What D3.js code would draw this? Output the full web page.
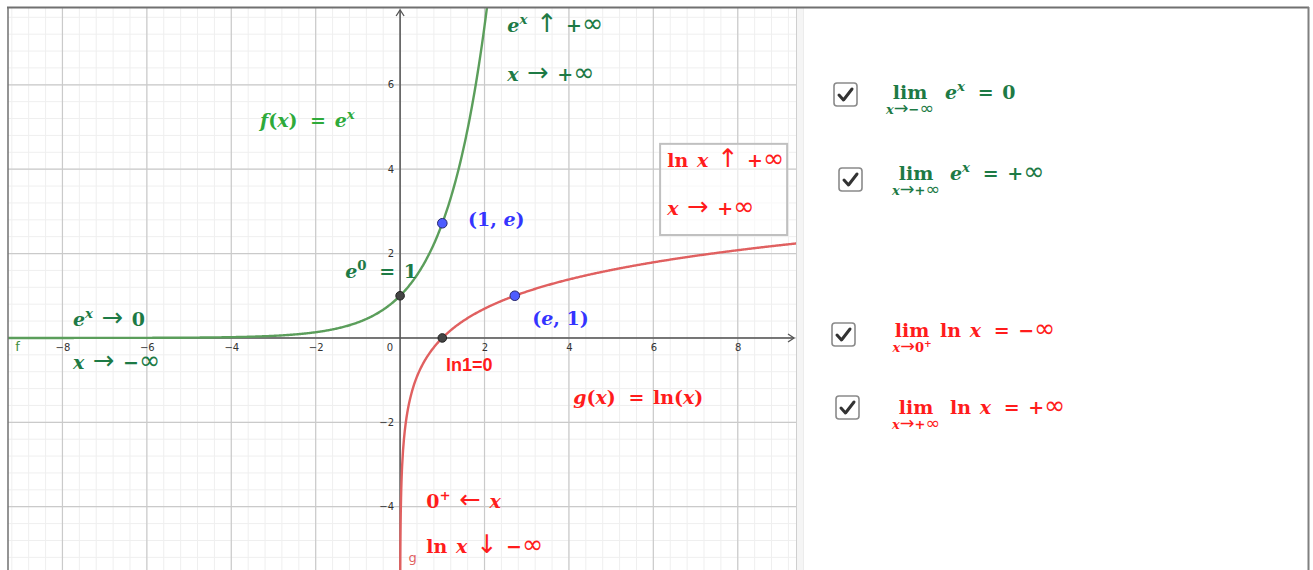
<!DOCTYPE html>
<html><head><meta charset="utf-8">
<script src="https://cdn.jsdelivr.net/npm/d3@7"></script>
<style>html,body{margin:0;padding:0;background:#fff;}svg{display:block;}</style>
</head><body>
<svg id="c" width="1313" height="570"></svg>
<script>
// ---------- data ----------
const xTicks = [-8, -6, -4, -2, 2, 4, 6, 8];
const yTicks = [-4, -2, 2, 4, 6];
const xDomain = [-9.29, 9.38];
const yDomain = [7.82, -5.5];
const expSampleX = d3.range(-9.3, 2.1, 0.02);
const lnSampleX = d3.range(0.0035, 0.05, 0.0005).concat(d3.range(0.05, 9.45, 0.02));
const expPointsY = expSampleX.map(v => Math.exp(v));
const lnPointsY = lnSampleX.map(v => Math.log(v));
const blackPointsX = [0, 1];
const blackPointsY = [1, 0];
const bluePointsX = [1, Math.E];
const bluePointsY = [Math.E, 1];

// ---------- layout ----------
const svg = d3.select('#c');
const L = 8, T = 8, R = 796, B = 570;
const x = d3.scaleLinear().domain(xDomain).range([L, R]);
const y = d3.scaleLinear().domain(yDomain).range([T, B]);

const GREEN_CURVE = '#5b9e5b', RED_CURVE = '#e06060';
const DGREEN = '#1d7a45', LGREEN = '#2eaa3a', RED = '#ff1c1c', BLUE = '#3434ff';

svg.append('defs').append('clipPath').attr('id', 'clip')
  .append('rect').attr('x', L).attr('y', T).attr('width', R - L).attr('height', B - T);
const g = svg.append('g').attr('clip-path', 'url(#clip)');

// grid
const minor = d3.range(-10, 10.01, 0.4).map(v => +v.toFixed(2));
const major = d3.range(-10, 10.01, 2);
g.selectAll('.mx').data(minor).join('line')
  .attr('x1', d => x(d)).attr('x2', d => x(d)).attr('y1', T).attr('y2', B)
  .attr('stroke', '#efefef').attr('stroke-width', 1);
g.selectAll('.my').data(minor).join('line')
  .attr('y1', d => y(d)).attr('y2', d => y(d)).attr('x1', L).attr('x2', R)
  .attr('stroke', '#efefef').attr('stroke-width', 1);
g.selectAll('.Mx').data(major).join('line')
  .attr('x1', d => x(d)).attr('x2', d => x(d)).attr('y1', T).attr('y2', B)
  .attr('stroke', '#cacaca').attr('stroke-width', 1.2);
g.selectAll('.My').data(major).join('line')
  .attr('y1', d => y(d)).attr('y2', d => y(d)).attr('x1', L).attr('x2', R)
  .attr('stroke', '#cacaca').attr('stroke-width', 1.2);

// axes lines with arrows
const AX = '#555';
g.append('line').attr('x1', L).attr('x2', R - 2).attr('y1', y(0)).attr('y2', y(0)).attr('stroke', AX).attr('stroke-width', 1.5);
g.append('line').attr('x1', x(0)).attr('x2', x(0)).attr('y1', T + 2).attr('y2', B).attr('stroke', AX).attr('stroke-width', 1.5);
g.append('path').attr('d', `M${R-8},${y(0)-4} L${R-2},${y(0)} L${R-8},${y(0)+4}`).attr('fill', 'none').attr('stroke', AX).attr('stroke-width', 1.3);
g.append('path').attr('d', `M${x(0)-4},${T+8} L${x(0)},${T+2} L${x(0)+4},${T+8}`).attr('fill', 'none').attr('stroke', AX).attr('stroke-width', 1.3);

// tick labels via d3 axes
const xAxis = d3.axisBottom(x).tickValues(xTicks).tickSize(0).tickPadding(0).tickFormat(d => d < 0 ? '\u2212' + (-d) : d);
const xa = g.append('g').attr('transform', `translate(0,${y(0)})`).call(xAxis);
xa.select('.domain').remove();
xa.selectAll('text').attr('dy', '13').attr('font-size', 10).attr('font-family', 'DejaVu Sans, sans-serif').attr('fill', '#333');
const yAxis = d3.axisLeft(y).tickValues(yTicks).tickSize(0).tickPadding(6).tickFormat(d => d < 0 ? '\u2212' + (-d) : d);
const ya = g.append('g').attr('transform', `translate(${x(0)},0)`).call(yAxis);
ya.select('.domain').remove();
ya.selectAll('text').attr('font-size', 10).attr('font-family', 'DejaVu Sans, sans-serif').attr('fill', '#333');
g.append('text').attr('x', x(0) - 7).attr('y', y(0) + 13).attr('text-anchor', 'end')
  .attr('font-size', 10).attr('font-family', 'DejaVu Sans, sans-serif').attr('fill', '#333').text('0');

// curves
const line = d3.line().x(d => x(d[0])).y(d => y(d[1]));
g.append('path').datum(expSampleX.map((v, i) => [v, expPointsY[i]]))
  .attr('d', line).attr('fill', 'none').attr('stroke', GREEN_CURVE).attr('stroke-width', 2.4);
g.append('path').datum(lnSampleX.map((v, i) => [v, lnPointsY[i]]))
  .attr('d', line).attr('fill', 'none').attr('stroke', RED_CURVE).attr('stroke-width', 2.4);

// curve labels
g.append('text').attr('x', x(-9.12)).attr('y', y(-0.3)).attr('font-size', 13).attr('font-family', 'DejaVu Sans, sans-serif').attr('fill', '#3f8f3f').text('f');
g.append('text').attr('x', x(0.2)).attr('y', y(-5.32)).attr('font-size', 13).attr('font-family', 'DejaVu Sans, sans-serif').attr('fill', RED_CURVE).text('g');

// label box
g.append('rect').attr('x', x(6.16)).attr('y', y(4.6)).attr('width', x(9.17) - x(6.16)).attr('height', y(2.44) - y(4.6))
  .attr('fill', 'white').attr('fill-opacity', 0.6).attr('stroke', '#c0c0c0').attr('stroke-width', 2);

// points
g.selectAll('.bp').data(blackPointsX).join('circle')
  .attr('cx', d => x(d)).attr('cy', (d, i) => y(blackPointsY[i])).attr('r', 4.3)
  .attr('fill', '#444').attr('stroke', '#222').attr('stroke-width', 1);
g.selectAll('.bl').data(bluePointsX).join('circle')
  .attr('cx', d => x(d)).attr('cy', (d, i) => y(bluePointsY[i])).attr('r', 4.8)
  .attr('fill', '#4d5cff').attr('stroke', '#2a2a70').attr('stroke-width', 1);

// math text helper
const SERIF = '"DejaVu Serif", "Liberation Serif", serif';
function mtext(sel, px, py, size, color, parts) {
  const t = sel.append('text').attr('x', px).attr('y', py).attr('font-size', size)
    .attr('fill', color).attr('font-family', SERIF).attr('font-weight', 'bold');
  let shift = 0;
  parts.forEach(p => {
    const s = typeof p === 'string' ? { t: p } : p;
    const ts = t.append('tspan').text(s.t);
    let target = 0;
    if (s.sup) { target = -size * 0.42; ts.attr('font-size', size * 0.7); }
    if (target !== shift) { ts.attr('dy', target - shift); shift = target; }
    if (s.i) ts.attr('font-style', 'italic');
    if (s.k) ts.attr('font-family', 'DejaVu Sans, sans-serif').attr('font-weight', 'normal').attr('font-size', size * s.k);
    if (s.dx) ts.attr('dx', s.dx * size / 19);
  });
  return t;
}
const It = t => ({ t, i: true });
const Sup = (t, i) => ({ t, sup: true, i: !!i });
const Arr = t => ({ t, k: 1.35 });
const Inf = { t: '\u221E', k: 1.35 };
const Eq = { t: '=', dx: 4 };
const Sp = { t: ' ', dx: 2 };

const ann = svg.append('g');
const FS = 19;
mtext(ann, x(2.54), y(7.25), FS, DGREEN, [It('e'), Sup('x', true), Sp, Arr('\u2191'), Sp, '+', Inf]);
mtext(ann, x(2.54), y(6.09), FS, DGREEN, [It('x'), Sp, Arr('\u2192'), Sp, '+', Inf]);
mtext(ann, x(-3.32), y(5.0), FS, LGREEN, [It('f'), '(', It('x'), ')', Sp, Eq, Sp, It('e'), Sup('x', true)]);
mtext(ann, x(6.33), y(4.05), FS, RED, ['ln', Sp, It('x'), Sp, Arr('\u2191'), Sp, '+', Inf]);
mtext(ann, x(6.33), y(2.91), FS, RED, [It('x'), Sp, Arr('\u2192'), Sp, '+', Inf]);
mtext(ann, x(1.61), y(2.65), FS, BLUE, ['(1, ', It('e'), ')']);
mtext(ann, x(-1.30), y(1.42), FS, DGREEN, [It('e'), Sup('0'), Sp, Eq, Sp, '1']);
mtext(ann, x(-7.75), y(0.28), FS, DGREEN, [It('e'), Sup('x', true), Sp, Arr('\u2192'), Sp, '0']);
mtext(ann, x(-7.75), y(-0.73), FS, DGREEN, [It('x'), Sp, Arr('\u2192'), Sp, '\u2212', Inf]);
mtext(ann, x(3.13), y(0.31), FS, BLUE, ['(', It('e'), ', 1)']);
ann.append('text').attr('x', x(1.09)).attr('y', y(-0.78)).attr('font-size', 18).attr('font-weight', 'bold')
  .attr('font-family', '"Liberation Sans", Arial, sans-serif').attr('fill', RED).text('ln1=0');
mtext(ann, x(4.10), y(-1.56), FS, RED, [It('g'), '(', It('x'), ')', Sp, Eq, Sp, 'ln(', It('x'), ')']);
mtext(ann, x(0.62), y(-4.03), FS, RED, ['0', Sup('+'), Sp, Arr('\u2190'), Sp, It('x')]);
mtext(ann, x(0.62), y(-5.09), FS, RED, ['ln', Sp, It('x'), Sp, Arr('\u2193'), Sp, '\u2212', Inf]);

// frame: borders and splitter
svg.append('rect').attr('x', 796).attr('y', 8).attr('width', 7).attr('height', 562).attr('fill', '#f5f5f5');
svg.append('line').attr('x1', 796.5).attr('x2', 796.5).attr('y1', 8).attr('y2', 570).attr('stroke', '#cfcfcf');
svg.append('line').attr('x1', 803.5).attr('x2', 803.5).attr('y1', 8).attr('y2', 570).attr('stroke', '#ececec');
svg.append('line').attr('x1', 7).attr('x2', 1309).attr('y1', 7.5).attr('y2', 7.5).attr('stroke', '#707070').attr('stroke-width', 2);
svg.append('line').attr('x1', 8).attr('x2', 8).attr('y1', 7).attr('y2', 570).attr('stroke', '#707070').attr('stroke-width', 1.5);
svg.append('line').attr('x1', 1308.5).attr('x2', 1308.5).attr('y1', 7).attr('y2', 570).attr('stroke', '#808080').attr('stroke-width', 2);

// right panel: checkboxes with limits
const panel = svg.append('g');
function checkbox(px, py) {
  panel.append('rect').attr('x', px).attr('y', py).attr('width', 23).attr('height', 23).attr('rx', 3)
    .attr('fill', 'white').attr('stroke', '#8a8a8a').attr('stroke-width', 1.6);
  panel.append('path').attr('d', `M${px+5},${py+12} L${px+9.5},${py+17} L${px+18},${py+6}`)
    .attr('fill', 'none').attr('stroke', '#333').attr('stroke-width', 3).attr('stroke-linecap', 'round').attr('stroke-linejoin', 'round');
}
function limit(subCx, by, color, subParts, restParts, restX) {
  mtext(panel, subCx, by, 19, color, ['lim']).attr('text-anchor', 'middle');
  mtext(panel, subCx, by + 15, 13, color, subParts).attr('text-anchor', 'middle');
  mtext(panel, restX, by, 19, color, restParts);
}
checkbox(834, 83);
limit(910, 99, DGREEN, [It('x'), Arr('\u2192'), '\u2212', Inf], [It('e'), Sup('x', true), Sp, Eq, Sp, '0'], 945);
checkbox(839, 168);
limit(916, 180, DGREEN, [It('x'), Arr('\u2192'), '+', Inf], [It('e'), Sup('x', true), Sp, Eq, Sp, '+', Inf], 950);
checkbox(832, 323);
limit(912, 337, RED, [It('x'), Arr('\u2192'), '0', Sup('+')], ['ln', Sp, It('x'), Sp, Eq, Sp, '\u2212', Inf], 940);
checkbox(836, 396);
limit(916, 414, RED, [It('x'), Arr('\u2192'), '+', Inf], ['ln', Sp, It('x'), Sp, Eq, Sp, '+', Inf], 950);
</script>
</body></html>
